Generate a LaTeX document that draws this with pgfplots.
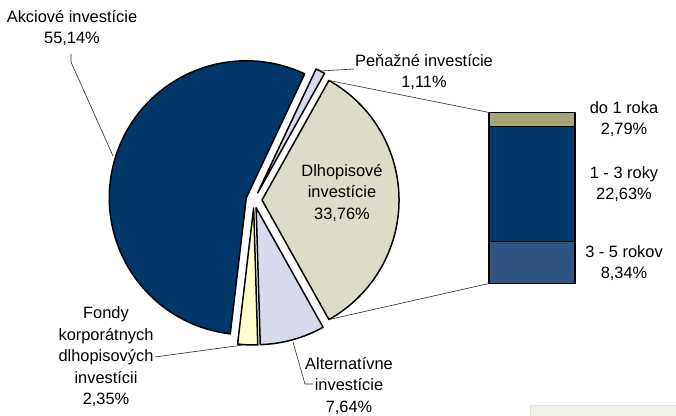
\documentclass[border=0pt]{standalone}
\usepackage{pgfplots}
\pgfplotsset{compat=1.18}
\usepackage{pgfplotstable}
\usepackage{fontspec}
\setmainfont{Liberation Sans}

\definecolor{navy}{RGB}{0,56,107}
\definecolor{beige}{RGB}{221,220,200}
\definecolor{lav}{RGB}{214,218,234}
\definecolor{paleyellow}{RGB}{255,255,204}
\definecolor{olive}{RGB}{166,166,120}
\definecolor{steel}{RGB}{47,85,128}
\definecolor{leader}{RGB}{40,40,40}

% pie shares in %, clockwise from the split slice
\pgfplotstableread{
name value
Dlhopisove 33.76
Alternativne 7.64
Fondy 2.35
Akciove 55.14
Penazne 1.11
}\piedata

% split of Dlhopisove investicie
\pgfplotstableread{
x short mid long
0 2.79 22.63 8.34
}\bardata

% start, end and middle angle of each slice
\pgfplotstablegetelem{0}{value}\of\piedata
\pgfmathsetmacro\cum{\pgfplotsretval*1.8}
\foreach \i in {0,...,4} {
  \pgfplotstablegetelem{\i}{value}\of\piedata
  \pgfmathsetmacro\a{\cum}
  \pgfmathsetmacro\b{\cum-\pgfplotsretval*3.6}
  \pgfmathsetmacro\m{(\a+\b)/2}
  \expandafter\xdef\csname sa\i\endcsname{\a}
  \expandafter\xdef\csname sb\i\endcsname{\b}
  \expandafter\xdef\csname sm\i\endcsname{\m}
  \xdef\cum{\b}
}

\newcommand{\slice}[2]{%
  \filldraw[fill=#2, draw=black, line width=1.5bp, line join=round]
    ([shift={(\csname sm#1\endcsname:8bp)}]axis cs:254,200)
    -- ++(\csname sa#1\endcsname:137bp)
    arc[start angle=\csname sa#1\endcsname, end angle=\csname sb#1\endcsname, radius=137bp]
    -- cycle;}

\begin{document}
\begin{tikzpicture}[every node/.style={font=\fontsize{16.4bp}{21.5bp}\selectfont, align=center, inner sep=0pt}]
\useasboundingbox (0,0) rectangle (676bp,416bp);

\begin{axis}[at={(0,0)}, anchor=south west, width=676bp, height=416bp, scale only axis,
  xmin=0, xmax=676, ymin=0, ymax=416, y dir=reverse, hide axis, clip=false]
\addplot[draw=none] coordinates {(0,0) (676,416)};
\slice{0}{beige}
\slice{1}{lav}
\slice{2}{paleyellow}
\slice{3}{navy}
\slice{4}{lav}
\path ([shift={(\csname sm0\endcsname:8bp)}]axis cs:254,200) ++(\csname sa0\endcsname:137bp) coordinate (dltop);
\path ([shift={(\csname sm0\endcsname:8bp)}]axis cs:254,200) ++(\csname sb0\endcsname:137bp) coordinate (dlbot);

\draw[leader, line width=0.6bp] (axis cs:71,54) -- (axis cs:71,62) -- (axis cs:113,156);
\draw[leader, line width=0.6bp] (axis cs:321,71) -- (axis cs:354,69);
\draw[leader, line width=0.6bp] (axis cs:155,357) -- (axis cs:243,345);
\draw[leader, line width=0.6bp] (axis cs:293,342) -- (axis cs:305,384) -- (axis cs:313,384);

\node at (axis cs:72,28) {Akciové investície\\55,14\%};
\node at (axis cs:424,72) {Peňažné investície\\1,11\%};
\node at (axis cs:342,193) {Dlhopisové\\investície\\33,76\%};
\node at (axis cs:106,357) {Fondy\\korporátnych\\dlhopisových\\investícii\\2,35\%};
\node at (axis cs:349,386) {Alternatívne\\investície\\7,64\%};
\node at (axis cs:624,119) {do 1 roka\\2,79\%};
\node at (axis cs:624,184) {1 - 3 roky\\22,63\%};
\node at (axis cs:624,263) {3 - 5 rokov\\8,34\%};

\filldraw[fill={rgb,255:red,240;green,240;blue,232}, draw={rgb,255:red,220;green,222;blue,238}, line width=0.8bp]
  (axis cs:530,405) rectangle (axis cs:680,425);
\end{axis}

\begin{axis}[at={(489bp,132.5bp)}, anchor=south west, width=86bp, height=171bp, scale only axis,
  hide axis, ybar stacked, bar width=86bp, xmin=-0.5, xmax=0.5, ymin=0, ymax=33.76, clip=false]
\addplot[fill=steel, draw=black, line width=1.5bp] table[x=x, y=long] {\bardata};
\addplot[fill=navy, draw=black, line width=1.5bp] table[x=x, y=mid] {\bardata};
\addplot[fill=olive, draw=black, line width=1.5bp] table[x=x, y=short] {\bardata};
\coordinate (bt) at (axis cs:-0.5,33.76);
\coordinate (bb) at (axis cs:-0.5,0);
\end{axis}

\draw[leader, line width=0.6bp] (dltop) -- (bt);
\draw[leader, line width=0.6bp] (dlbot) -- (bb);
\end{tikzpicture}
\end{document}
